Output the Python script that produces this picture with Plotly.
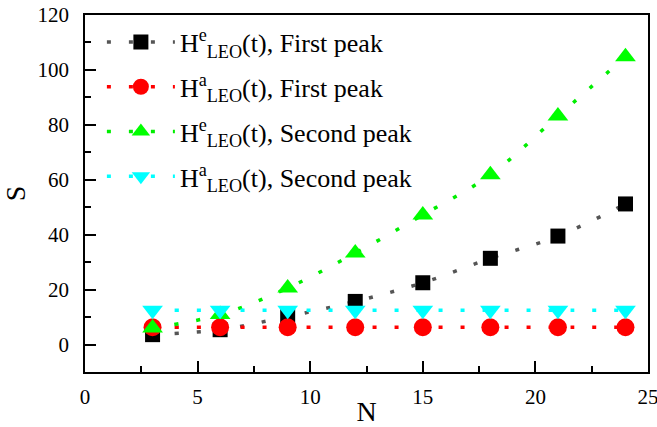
import plotly.graph_objects as go

N = [3, 6, 9, 12, 15, 18, 21, 24]
he_first = [3.6, 5.4, 10.2, 15.7, 22.5, 31.4, 39.5, 51.2]
ha_first = [6.3, 6.3, 6.3, 6.3, 6.3, 6.3, 6.3, 6.3]
he_second = [6.0, 10.9, 20.6, 33.3, 47.2, 61.8, 83.2, 104.8]
ha_second = [12.5, 12.5, 12.5, 12.5, 12.5, 12.5, 12.5, 12.5]

names = [
    "H<sup>e</sup><sub>LEO</sub>(t), First peak",
    "H<sup>a</sup><sub>LEO</sub>(t), First peak",
    "H<sup>e</sup><sub>LEO</sub>(t), Second peak",
    "H<sup>a</sup><sub>LEO</sub>(t), Second peak",
]
series = [he_first, ha_first, he_second, ha_second]
line_colors = ["#555555", "#ff0000", "#00ee00", "#00ffff"]
marker_colors = ["#000000", "#ff0000", "#00ff00", "#00ffff"]
symbols = ["square", "circle", "triangle-up", "triangle-down"]
sizes = [15, 18, 18, 18]

FONT = "serif"
fig = go.Figure()
for i in range(4):
    fig.add_trace(go.Scatter(
        x=N, y=series[i], name=names[i], mode="lines+markers",
        legendgroup=f"g{i}",
        line=dict(color=line_colors[i], width=3.5, dash="4px,18px", shape="spline"),
        marker=dict(symbol=symbols[i], size=sizes[i], color=marker_colors[i],
                    line=dict(width=0)),
    ))

axis_common = dict(
    showline=True, linecolor="black", linewidth=1.5, mirror=True,
    ticks="inside", ticklen=11, tickwidth=1.5, tickcolor="black",
    showgrid=False, zeroline=False, automargin=False,
    tickfont=dict(family=FONT, size=21, color="black"),
)
fig.update_xaxes(range=[0, 25], dtick=5, tick0=0, ticklabelstandoff=5,
                 ticklabeloverflow="allow",
                 minor=dict(ticks="inside", ticklen=6, tickwidth=1.5, tickcolor="black", dtick=2.5),
                 title=dict(text="N", font=dict(family=FONT, size=28, color="black"), standoff=6),
                 **axis_common)
fig.update_yaxes(range=[-10, 120], dtick=20, tick0=0, ticklabelstandoff=10,
                 minor=dict(ticks="inside", ticklen=6, tickwidth=1.5, tickcolor="black", dtick=10),
                 title=dict(text="S", font=dict(family=FONT, size=28, color="black"), standoff=8),
                 **axis_common)

fig.update_layout(
    width=657, height=427,
    margin=dict(l=85, r=9, t=15, b=55),
    plot_bgcolor="white", paper_bgcolor="white",
    font=dict(family=FONT, size=21, color="black"),
    legend=dict(x=0.03, y=0.99, xanchor="left", yanchor="top",
                bgcolor="rgba(0,0,0,0)", borderwidth=0,
                tracegroupgap=8, itemwidth=68,
                font=dict(family=FONT, size=26, color="black")),
    showlegend=True,
)
fig.write_html("out.html", config={"displayModeBar": False},
               post_script="document.body.style.margin='0';")
